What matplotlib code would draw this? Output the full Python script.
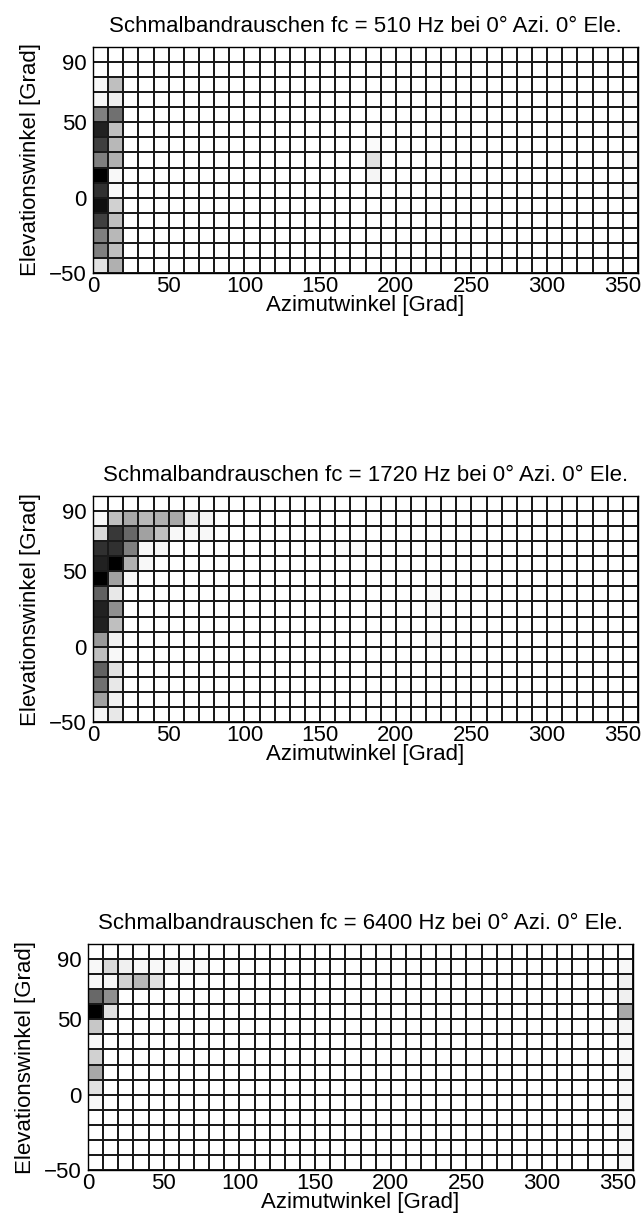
import matplotlib
matplotlib.use('Agg')
import matplotlib.pyplot as plt
import numpy as np

plt.rcParams['font.family'] = ['Liberation Sans', 'DejaVu Sans']

# Grid of the localisation map (cell edges in degrees).
azimuthEdges = np.arange(0, 361, 10)
elevationEdges = np.arange(-50, 101, 10)
elevations = [-50, -40, -30, -20, -10, 0, 10, 20, 30, 40, 50, 60, 70, 80, 90]

frequencies = [510, 1720, 6400]

# Relative answer frequency per cell (0 = white, 1 = black), columns listed bottom to top.
# 510 Hz
p510_az = [0, 10]
p510_cols = [
    [0.12, 0.50, 0.50, 0.75, 0.94, 0.81, 1.00, 0.50, 0.75, 0.87, 0.50, 0.03, 0.03, 0.00, 0.00],
    [0.31, 0.25, 0.28, 0.25, 0.18, 0.03, 0.03, 0.31, 0.28, 0.25, 0.56, 0.07, 0.25, 0.00, 0.00],
]
p510_extra_az = [180, 180, 180, 350, 350, 350, 350]
p510_extra_el = [20, 10, 30, 0, 20, 40, 60]
p510_extra_val = [0.12, 0.04, 0.02, 0.03, 0.03, 0.03, 0.02]

# 1720 Hz
p1720_az = [0, 10, 20, 30, 40, 50, 60, 70]
p1720_cols = [
    [0.04, 0.37, 0.56, 0.62, 0.25, 0.40, 0.87, 0.87, 0.62, 1.00, 0.87, 0.81, 0.15, 0.03, 0.00],
    [0.09, 0.06, 0.09, 0.12, 0.03, 0.06, 0.25, 0.44, 0.09, 0.37, 1.00, 0.81, 0.78, 0.25, 0.00],
    [0.00, 0.00, 0.00, 0.00, 0.00, 0.00, 0.00, 0.00, 0.00, 0.03, 0.31, 0.50, 0.59, 0.34, 0.00],
    [0.00, 0.00, 0.00, 0.00, 0.00, 0.00, 0.00, 0.00, 0.00, 0.00, 0.03, 0.03, 0.37, 0.28, 0.00],
    [0.00, 0.00, 0.00, 0.00, 0.00, 0.00, 0.00, 0.00, 0.00, 0.00, 0.00, 0.03, 0.25, 0.31, 0.00],
    [0.00, 0.00, 0.00, 0.00, 0.00, 0.00, 0.00, 0.00, 0.00, 0.00, 0.00, 0.00, 0.03, 0.34, 0.00],
    [0.00, 0.00, 0.00, 0.00, 0.00, 0.00, 0.00, 0.00, 0.00, 0.00, 0.00, 0.00, 0.03, 0.09, 0.00],
    [0.00, 0.00, 0.00, 0.00, 0.00, 0.00, 0.00, 0.00, 0.00, 0.00, 0.00, 0.00, 0.03, 0.04, 0.00],
]
p1720_extra_az = [220, 220, 220, 160, 170]
p1720_extra_el = [30, 20, 0, 60, 60]
p1720_extra_val = [0.02, 0.02, 0.02, 0.02, 0.02]

# 6400 Hz
p6400_az = [0, 10, 20, 30, 40, 350]
p6400_cols = [
    [0.00, 0.00, 0.00, 0.00, 0.03, 0.12, 0.34, 0.18, 0.03, 0.22, 1.00, 0.59, 0.03, 0.03, 0.00],
    [0.00, 0.00, 0.00, 0.00, 0.00, 0.00, 0.00, 0.00, 0.00, 0.00, 0.12, 0.44, 0.03, 0.15, 0.00],
    [0.00, 0.00, 0.00, 0.00, 0.00, 0.00, 0.00, 0.00, 0.00, 0.00, 0.00, 0.00, 0.18, 0.06, 0.00],
    [0.00, 0.00, 0.00, 0.00, 0.00, 0.00, 0.00, 0.00, 0.00, 0.00, 0.00, 0.00, 0.28, 0.03, 0.00],
    [0.00, 0.00, 0.00, 0.00, 0.00, 0.00, 0.00, 0.00, 0.00, 0.00, 0.00, 0.00, 0.12, 0.03, 0.00],
    [0.03, 0.03, 0.03, 0.03, 0.03, 0.03, 0.03, 0.03, 0.03, 0.04, 0.34, 0.06, 0.06, 0.03, 0.00],
]
p6400_extra_az = [340, 340, 50, 60, 70]
p6400_extra_el = [40, 60, 80, 80, 80]
p6400_extra_val = [0.02, 0.02, 0.03, 0.02, 0.02]


def build_grid(colAz, colValues, extraAz, extraEl, extraVal):
    """Put the column profiles and single cells into the full elevation x azimuth grid."""
    grid = np.zeros((len(elevationEdges) - 1, len(azimuthEdges) - 1))
    for az, col in zip(colAz, colValues):
        grid[:, az // 10] = col
    for az, el, val in zip(extraAz, extraEl, extraVal):
        grid[elevations.index(el), az // 10] = val
    return grid


grids = [
    build_grid(p510_az, p510_cols, p510_extra_az, p510_extra_el, p510_extra_val),
    build_grid(p1720_az, p1720_cols, p1720_extra_az, p1720_extra_el, p1720_extra_val),
    build_grid(p6400_az, p6400_cols, p6400_extra_az, p6400_extra_el, p6400_extra_val),
]

# Axes positions in figure fractions (left, bottom, width, height).
positions = [
    [93 / 643, 1 - 273 / 1230, 545 / 643, 226 / 1230],
    [93 / 643, 1 - 722 / 1230, 545 / 643, 226 / 1230],
    [88 / 643, 1 - 1170 / 1230, 545 / 643, 226 / 1230],
]

fig = plt.figure(figsize=(6.43, 12.30), dpi=100)
for grid, freq, pos in zip(grids, frequencies, positions):
    ax = fig.add_axes(pos)
    ax.pcolormesh(azimuthEdges, elevationEdges, grid, cmap='gray_r', vmin=0, vmax=1,
                  edgecolors='#1a1a1a', linewidth=1.1)
    ax.set_xlim(0, 360)
    ax.set_ylim(-50, 100)
    ax.set_xticks(np.arange(0, 351, 50))
    ax.set_yticks([-50, 0, 50, 90])
    ax.tick_params(axis='x', length=0, labelsize=16, pad=2)
    ax.tick_params(axis='y', length=0, labelsize=16, pad=4.5)
    ax.set_xlabel('Azimutwinkel [Grad]', fontsize=16, labelpad=-1)
    ax.set_ylabel('Elevationswinkel [Grad]', fontsize=16, labelpad=6)
    ax.set_title('Schmalbandrauschen fc = %d Hz bei 0° Azi. 0° Ele.' % freq, fontsize=16, pad=11)
    for spine in ax.spines.values():
        spine.set_linewidth(1.0)

plt.savefig('out.png', dpi=100)
